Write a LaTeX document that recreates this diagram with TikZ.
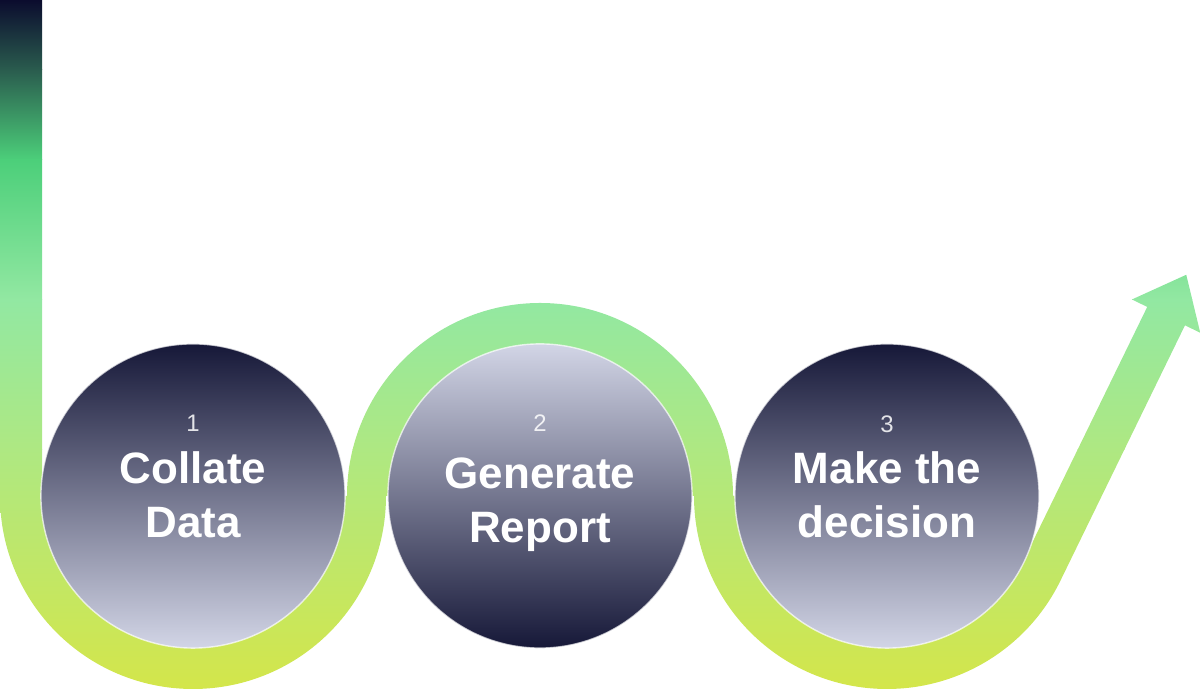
\documentclass[tikz,border=0pt]{standalone}
\usepackage{fontspec}
\setmainfont{Liberation Sans}
\usetikzlibrary{calc}

\definecolor{rbA}{HTML}{0B0C2E}
\definecolor{rbB}{HTML}{2A5C4E}
\definecolor{rbC}{HTML}{4CCF7A}
\definecolor{rbD}{HTML}{92E8A2}
\definecolor{rbE}{HTML}{AEE882}
\definecolor{rbF}{HTML}{D4E64A}
\definecolor{discDark}{HTML}{161838}
\definecolor{discLight}{HTML}{D2D5E6}

\begin{document}
\begin{tikzpicture}[x=0.01cm, y=0.01cm,
  disc/.style={circle, minimum size=3.04cm, inner sep=0pt, draw=white, draw opacity=0.7, line width=0.4pt},
  numlabel/.style={text=white, text opacity=0.85, font=\fontsize{6.8}{8}\selectfont},
  titlelabel/.style={text=white, align=center, anchor=base, font=\bfseries\fontsize{12.5}{15.6}\selectfont}]
  \useasboundingbox (0,0) rectangle (1200,692);
  % ribbon: centre line radius 172, half width 21
  \coordinate (m3) at (887,196);
  \coordinate (sR0) at ($(m3)+(334:193)$);
  \coordinate (sL0) at ($(m3)+(334:151)$);
  \coordinate (sR1) at ($(sR0)+(64:284)$);
  \coordinate (sL1) at ($(sL0)+(64:284)$);
  \coordinate (hb) at ($(m3)+(334:172)+(64:284)$);
  \coordinate (bR) at ($(hb)+(-26:38)$);
  \coordinate (bL) at ($(hb)+(154:38)$);
  \coordinate (tip) at ($(hb)+(64:46)$);
  \begin{scope}
    \clip (0,692) -- (0,196) arc[start angle=180, end angle=360, radius=193]
      -- (389,196) arc[start angle=180, end angle=0, radius=151]
      -- (694,196) arc[start angle=180, end angle=334, radius=193]
      -- (sR1) -- (bR) -- (tip) -- (bL) -- (sL1) -- (sL0)
      arc[start angle=334, end angle=180, radius=151]
      -- (733,196) arc[start angle=0, end angle=180, radius=193]
      -- (344,196) arc[start angle=360, end angle=180, radius=151]
      -- (42,692) -- cycle;
    \shade[top color=rbA, bottom color=rbB] (0,622) rectangle (1200,692);
    \shade[top color=rbB, bottom color=rbC] (0,532) rectangle (1200,622.5);
    \shade[top color=rbC, bottom color=rbD] (0,392) rectangle (1200,532.5);
    \shade[top color=rbD, bottom color=rbE] (0,242) rectangle (1200,392.5);
    \shade[top color=rbE, bottom color=rbF] (0,0) rectangle (1200,242.5);
  \end{scope}
  % the three steps
  \node[disc, top color=discDark, bottom color=discLight] (c1) at (193,196) {};
  \node[disc, top color=discLight, bottom color=discDark] (c2) at (540,196) {};
  \node[disc, top color=discDark, bottom color=discLight] (c3) at (887,196) {};
  \node[numlabel] (n1) at ($(c1)+(0,73)$) {1};
  \node[numlabel] (n2) at ($(c2)+(0,73)$) {2};
  \node[numlabel] (n3) at ($(c3)+(0,72)$) {3};
  \node[titlelabel] (t1) at ($(c1)+(0,-42)$) {Collate\\Data};
  \node[titlelabel] (t2) at ($(c2)+(0,-47)$) {Generate\\Report};
  \node[titlelabel] (t3) at ($(c3)+(0,-42)$) {Make the\\decision};
\end{tikzpicture}
\end{document}
